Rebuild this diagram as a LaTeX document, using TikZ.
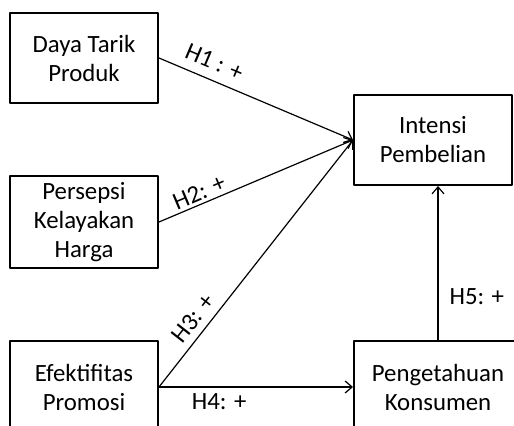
\documentclass[tikz,border=0pt]{standalone}
\usepackage{fontspec}
\setmainfont{Carlito}
\usetikzlibrary{arrows.meta}
\begin{document}
\begin{tikzpicture}[x=0.5pt,y=-0.5pt,>={Straight Barb[length=3.5pt,width=6pt]},line join=round,
		font=\fontsize{12.4}{14.5}\selectfont,
		box/.style={draw,line width=1pt,align=center,inner sep=2pt,minimum width=74pt,minimum height=46pt},
		lbl/.style={inner sep=1pt,sloped},
		path/.style={->,line width=0.6pt}]
			\useasboundingbox (0,0) rectangle (514,426);
			\clip (0,0) rectangle (514,426);
			\node[box,minimum height=45pt] (produk) at (84,58) {Daya Tarik\\Produk};
			\node[box] (harga) at (84,222) {Persepsi\\Kelayakan\\Harga};
			\node[box] (promosi) at (84,387) {Efektifitas\\Promosi};
			\node[box,minimum width=79pt,minimum height=45pt] (intensi) at (433,140) {Intensi\\Pembelian};
			\node[box,minimum width=84pt] (konsumen) at (438,387) {Pengetahuan\\Konsumen};
			\draw[path] (produk.east) -- node[lbl,above=3.5pt,pos=0.25] {H1 : +} (intensi.west);
			\draw[path] (harga.east) -- node[lbl,above=0.5pt,pos=0.23] {H2: +} (intensi.west);
			\draw[path] (promosi.east) -- node[lbl,above=2.5pt,pos=0.24] {H3: +} (intensi.west);
			\draw[path] (promosi.east) -- node[lbl,below=2pt,pos=0.31] {H4: +} (konsumen.west);
			\draw[path] (konsumen.north) -- node[inner sep=1pt,right=4.5pt,pos=0.28] {H5: +} (konsumen.north |- intensi.south);
		\end{tikzpicture}
\end{document}
